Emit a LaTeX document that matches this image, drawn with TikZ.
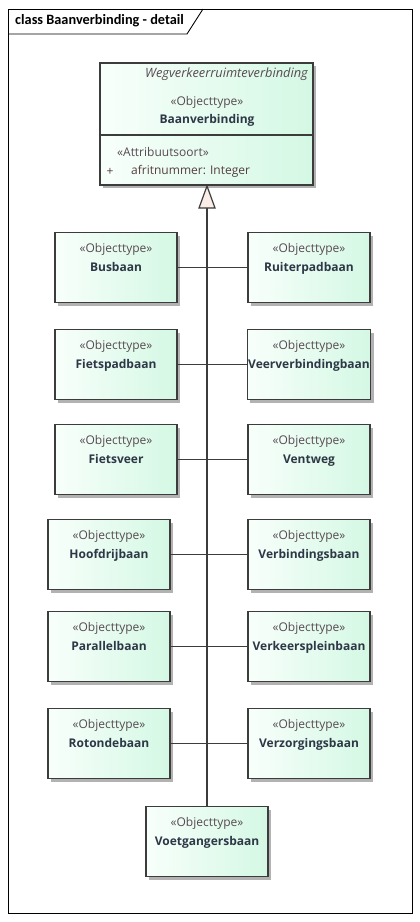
\documentclass[tikz,border=0pt]{standalone}
\usepackage{fontspec}
\setmainfont{Open Sans}
\newfontfamily\titlefont{Carlito}
\usetikzlibrary{shadows}

\definecolor{boxline}{RGB}{60,60,60}
\definecolor{boxleft}{RGB}{248,255,251}
\definecolor{boxright}{RGB}{212,248,228}
\definecolor{stereotext}{RGB}{88,74,82}
\definecolor{nametext}{RGB}{45,55,70}
\definecolor{attrtext}{RGB}{85,62,62}
\definecolor{triafill}{RGB}{251,237,232}

\tikzset{
	objtype/.style={draw=boxline, line width=1.1pt, left color=boxleft, right color=boxright,
		drop shadow={shadow xshift=3pt, shadow yshift=-3pt, fill=black, opacity=0.3},
		minimum width=122pt, inner xsep=1pt, inner ysep=0pt, align=center,
		text height=39pt, text depth=31pt, font=\fontsize{12}{19}\selectfont, text=nametext},
	plaintext/.style={inner sep=0pt, font=\fontsize{12}{14}\selectfont},
	genline/.style={draw=boxline, line width=1.2pt}
}

\newcommand{\stereo}{\textcolor{stereotext}{«Objecttype»}}

\begin{document}
\begin{tikzpicture}[x=1pt, y=-1pt]
		\useasboundingbox (0,0) rectangle (420,922);

		% frame
		\draw[line width=0.9pt] (8,9) rectangle (412,913);
		\draw[line width=0.9pt] (8,34) -- (187,34) -- (203,9);
		\node[anchor=west, inner sep=0pt, font=\titlefont\bfseries\fontsize{14.3}{16}\selectfont] (title) at (15,21) {class Baanverbinding - detail};

		% supertype
		\node[draw=boxline, line width=1.1pt, left color=boxleft, right color=boxright,
			drop shadow={shadow xshift=3pt, shadow yshift=-3pt, fill=black, opacity=0.3},
			minimum width=213pt, minimum height=122pt, inner sep=0pt] (baanverb) at (206.5,124) {};
		\draw[boxline, line width=1.1pt] (baanverb.west |- 0,135) -- (baanverb.east |- 0,135);
		\node[plaintext, anchor=mid east, text=stereotext, font=\fontsize{12.8}{14}\selectfont] (super) at (308,75) {\itshape Wegverkeerruimteverbinding};
		\node[plaintext, text=stereotext] (baanster) at (207,102) {«Objecttype»};
		\node[plaintext, text=nametext] (baanname) at (207,120) {\bfseries Baanverbinding};
		\node[plaintext, anchor=mid west, text=stereotext] (attrster) at (117,154) {«Attribuutsoort»};
		\node[plaintext, text=attrtext] (attrplus) at (110,172) {+};
		\node[plaintext, anchor=mid west, text=attrtext] (attrname) at (131,172) {afritnummer: Integer};

		% subtypes
		\node[objtype] (busbaan) at (116,232) [anchor=north] {\stereo\\\textbf{Busbaan}};
		\node[objtype] (ruiterpad) at (309,232) [anchor=north] {\stereo\\\textbf{Ruiterpadbaan}};
		\node[objtype] (fietspad) at (116,329) [anchor=north] {\stereo\\\textbf{Fietspadbaan}};
		\node[objtype] (veerverb) at (309,329) [anchor=north] {\stereo\\\textbf{Veerverbindingbaan}};
		\node[objtype] (fietsveer) at (116,424) [anchor=north] {\stereo\\\textbf{Fietsveer}};
		\node[objtype] (ventweg) at (309,424) [anchor=north] {\stereo\\\textbf{Ventweg}};
		\node[objtype] (hoofdrij) at (109,519) [anchor=north] {\stereo\\\textbf{Hoofdrijbaan}};
		\node[objtype] (verbinding) at (309,519) [anchor=north] {\stereo\\\textbf{Verbindingsbaan}};
		\node[objtype] (parallel) at (109,611) [anchor=north] {\stereo\\\textbf{Parallelbaan}};
		\node[objtype] (verkeersplein) at (309,611) [anchor=north] {\stereo\\\textbf{Verkeerspleinbaan}};
		\node[objtype] (rotonde) at (109,708) [anchor=north] {\stereo\\\textbf{Rotondebaan}};
		\node[objtype] (verzorging) at (309,708) [anchor=north] {\stereo\\\textbf{Verzorgingsbaan}};
		\node[objtype] (voetganger) at (207,806) [anchor=north] {\stereo\\\textbf{Voetgangersbaan}};

		% generalisation
		\coordinate (tip) at (207,186);
		\coordinate (tribase) at (207,208);
		\draw[genline] (tribase) -- (voetganger.north);
		\draw[genline] (busbaan.east) -- (ruiterpad.west);
		\draw[genline] (fietspad.east) -- (veerverb.west);
		\draw[genline] (fietsveer.east) -- (ventweg.west);
		\draw[genline] (hoofdrij.east) -- (verbinding.west);
		\draw[genline] (parallel.east) -- (verkeersplein.west);
		\draw[genline] (rotonde.east) -- (verzorging.west);
		\draw[genline, fill=triafill, line join=miter] (tip) -- ([xshift=-8pt]tribase) -- ([xshift=8pt]tribase) -- cycle;
	\end{tikzpicture}
\end{document}
